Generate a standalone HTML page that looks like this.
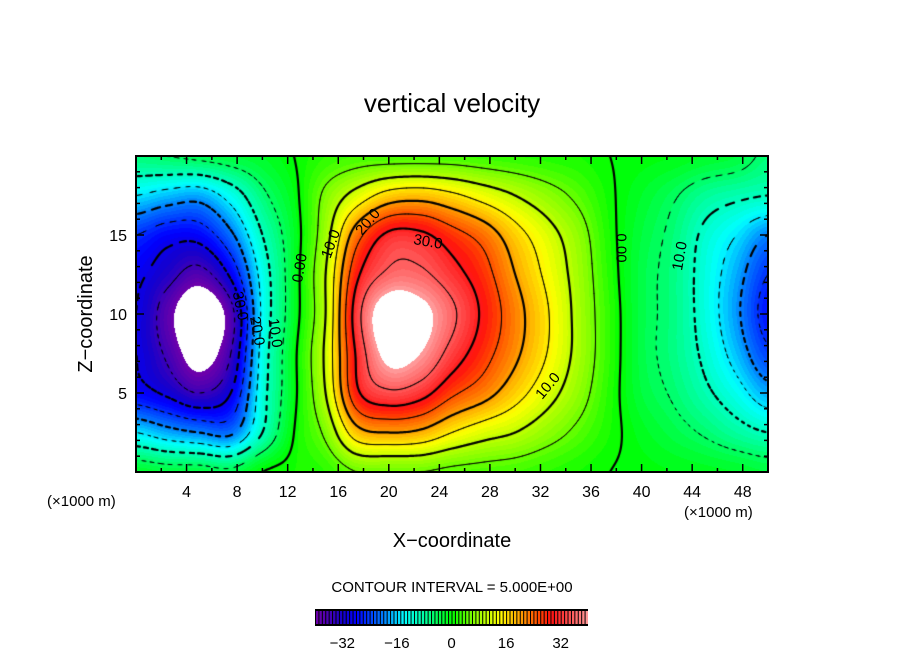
<!DOCTYPE html>
<html><head><meta charset="utf-8">
<style>
html,body{margin:0;padding:0;background:#fff;}
#wrap{position:relative;width:904px;height:654px;overflow:hidden;font-family:"Liberation Sans",sans-serif;}
#plot{position:absolute;left:136px;top:156px;}
svg{position:absolute;left:0;top:0;}
</style></head>
<body>
<div id="wrap">
<canvas id="plot" width="632" height="316"></canvas>
<svg id="ov" width="904" height="654"></svg>
</div>
<script>
// ---- data ----
const xGrid = [0,2.5,5,7.5,10,12.5,15,17.5,20,22.5,25,27.5,30,32.5,35,37.5,40,42.5,45,47.5,50];
const zGrid = [0,2.5,5,7.5,10,12.5,15,17.5,20];
const row0  = [-2,-3,-3,-4,0,1,2,5,5,5,4,3.5,3,2,1,0,-0.5,-1,-1.5,-2,-3];
const row1  = [-15,-18,-20,-21,-10,0,6,18,20,19,15,12,10,7,4,1,-1.5,-3.5,-5.5,-8,-10];
const row2  = [-28,-31,-35,-30,-12,-1,10,29,34,32,26,22,17,12,7,1.5,-3,-5.5,-9,-13,-18];
const row3  = [-30,-36,-43,-35,-13,-1,11,31,42,40,33,27,21,15,8.5,2,-3.5,-6.5,-11,-17,-24];
const row4  = [-30,-38,-46,-37,-14,-2,10,33,44,42,36,29,22,15.5,8.5,2,-3.5,-6.5,-12,-19,-27];
const row5  = [-29,-33,-37,-29,-13,-2,10,29,36,36,32,27,20,14,8,1.5,-3.5,-6.5,-12,-18,-25];
const row6  = [-25,-28,-28,-21,-10,-2,8,23,31,31,27,23,17,12,7,1,-3,-6,-11,-15,-20];
const row7  = [-15,-17,-18,-13,-6,-1,6,12,17,18,16,13,10,7,4,0.5,-2,-4.5,-7.5,-9,-10];
const row8  = [-6,-5,-4,-3,-2,0,2,3,3,3,3,2.5,2,1.5,1,0,-0.5,-1,-2,-3,-6];
const rows = [row0,row1,row2,row3,row4,row5,row6,row7,row8];
const xTicks = [4,8,12,16,20,24,28,32,36,40,44,48];
const zTicks = [5,10,15];
const cbTicks = [-32,-16,0,16,32];
const levels = [-35,-30,-25,-20,-15,-10,-5,0,5,10,15,20,25,30,35];

// ---- geometry ----
const PL=136, PT=156, PW=632, PH=316;
const X0=0,X1=50,Z0=0,Z1=20;
function sx(x){return PL+(x-X0)/(X1-X0)*PW;}
function sz(z){return PT+PH-(z-Z0)/(Z1-Z0)*PH;}

function cr(p0,p1,p2,p3,t){return 0.5*((2*p1)+(-p0+p2)*t+(2*p0-5*p1+4*p2-p3)*t*t+(-p0+3*p1-3*p2+p3)*t*t*t);}
function gv(i,j){i=Math.max(0,Math.min(xGrid.length-1,i));j=Math.max(0,Math.min(zGrid.length-1,j));return rows[j][i];}
function field(x,z){
  const dx=xGrid[1]-xGrid[0], dz=zGrid[1]-zGrid[0];
  let fx=(x-xGrid[0])/dx, fz=(z-zGrid[0])/dz;
  let i=Math.min(xGrid.length-2,Math.max(0,Math.floor(fx))), j=Math.min(zGrid.length-2,Math.max(0,Math.floor(fz)));
  const tx=fx-i, tz=fz-j;
  const c=[];
  for(let k=-1;k<=2;k++) c.push(cr(gv(i-1,j+k),gv(i,j+k),gv(i+1,j+k),gv(i+2,j+k),tx));
  return cr(c[0],c[1],c[2],c[3],tz);
}
const stops=[[-40,[112,0,170]],[-36,[70,0,180]],[-32,[20,0,205]],[-28,[0,0,255]],[-24,[0,64,255]],[-20,[0,128,255]],[-14,[0,255,255]],[-8,[0,255,160]],[0,[0,255,0]],[6,[128,255,0]],[14,[255,255,0]],[20,[255,160,0]],[26,[255,64,0]],[29,[255,16,16]],[33,[255,64,64]],[38,[255,128,128]],[40,[255,160,160]]];
function cmap(v){
  if(v<=stops[0][0])return stops[0][1];
  for(let k=1;k<stops.length;k++){if(v<=stops[k][0]){const a=stops[k-1],b=stops[k];const t=(v-a[0])/(b[0]-a[0]);return a[1].map((c,n)=>Math.round(c+(b[1][n]-c)*t));}}
  return stops[stops.length-1][1];
}

// ---- field ----
const cv=document.getElementById('plot');const ctx=cv.getContext('2d');
const img=ctx.createImageData(PW,PH);
for(let py=0;py<PH;py++){const z=Z1-(py+0.5)/PH*(Z1-Z0);
  for(let px=0;px<PW;px++){const x=X0+(px+0.5)/PW*(X1-X0);const v=field(x,z);const o=(py*PW+px)*4;
    let col; if(v>40||v<-40) col=[255,255,255]; else col=cmap(Math.floor(v)+0.5);
    img.data[o]=col[0];img.data[o+1]=col[1];img.data[o+2]=col[2];img.data[o+3]=255;}}
ctx.putImageData(img,0,0);

// ---- contours (marching squares) ----
const S=2, NX=PW/S, NY=PH/S;
const F=[];
for(let j=0;j<=NY;j++){F[j]=[];for(let i=0;i<=NX;i++){F[j][i]=field(X0+i*S/PW*(X1-X0),Z1-j*S/PH*(Z1-Z0));}}
ctx.strokeStyle='#000';ctx.lineCap='round';
levels.forEach(L=>{
  ctx.lineWidth=(L%10===0)?2.2:1;
  ctx.beginPath();
  for(let j=0;j<NY;j++)for(let i=0;i<NX;i++){
    const a=F[j][i],b=F[j][i+1],c=F[j+1][i+1],d=F[j+1][i];
    const pts=[];
    const e=(v1,v2,x1,y1,x2,y2)=>{if((v1<L)!==(v2<L)){const t=(L-v1)/(v2-v1);pts.push([x1+(x2-x1)*t,y1+(y2-y1)*t]);}};
    const x=i*S,y=j*S;
    e(a,b,x,y,x+S,y);e(b,c,x+S,y,x+S,y+S);e(c,d,x+S,y+S,x,y+S);e(d,a,x,y+S,x,y);
    for(let k=0;k+1<pts.length;k+=2){
      const mx=(pts[k][0]+pts[k+1][0])/2,my=(pts[k][1]+pts[k+1][1])/2;
      if(L<0 && Math.floor((mx+my)/5)%2===1) continue;
      ctx.moveTo(pts[k][0],pts[k][1]);ctx.lineTo(pts[k+1][0],pts[k+1][1]);
    }
  }
  ctx.stroke();
});

// ---- overlay ----
const ov=document.getElementById('ov');const NS='http://www.w3.org/2000/svg';
function mk(tag,attrs,parent){const el=document.createElementNS(NS,tag);for(const k in attrs)el.setAttribute(k,attrs[k]);(parent||ov).appendChild(el);return el;}
function txt(s,attrs){const t=mk('text',Object.assign({'font-family':'Liberation Sans, sans-serif',fill:'#000'},attrs));t.textContent=s;return t;}

const frame=mk('rect',{x:PL,y:PT,width:PW,height:PH,fill:'none',stroke:'#000','stroke-width':2});



const tg=mk('g',{stroke:'#000','stroke-width':1.5});


for(let x=2;x<50;x+=2){const len=(x%4===0)?8:4;
  mk('line',{x1:sx(x),x2:sx(x),y1:PT+PH,y2:PT+PH-len},tg);mk('line',{x1:sx(x),x2:sx(x),y1:PT,y2:PT+len},tg);}
for(let z=1;z<20;z++){const len=(z%5===0)?8:4;
  mk('line',{x1:PL,x2:PL+len,y1:sz(z),y2:sz(z)},tg);mk('line',{x1:PL+PW,x2:PL+PW-len,y1:sz(z),y2:sz(z)},tg);}

xTicks.forEach(v=>{const t=txt(String(v),{x:sx(v),y:497,'font-size':16,'text-anchor':'middle'});
  
  });
zTicks.forEach(v=>{const t=txt(String(v),{x:127,y:sz(v)+6,'font-size':16,'text-anchor':'end'});
  
  });

let t;
t=txt('vertical velocity',{x:452,y:112,'font-size':26,'text-anchor':'middle'});

t=txt('X\u2212coordinate',{x:452,y:547,'font-size':20,'text-anchor':'middle'});

t=txt('Z\u2212coordinate',{x:0,y:0,'font-size':20,'text-anchor':'middle',transform:'translate(92,314) rotate(-90)'});

t=txt('(\u00d71000 m)',{x:47,y:506,'font-size':15});

t=txt('(\u00d71000 m)',{x:684,y:517,'font-size':15});

t=txt('CONTOUR INTERVAL = 5.000E+00',{x:452,y:592,'font-size':15,'text-anchor':'middle'});


// contour labels
const clabels=[['0.00',300,268,-80],['10.0',331,244,-70],['20.0',368,222,-50],['30.0',428,242,10],['0.00',621,248,90],['10.0',680,256,-80],['10.0',548,386,-50],['30.0',240,306,78],['20.0',257,331,80],['10.0',275,333,82]];
clabels.forEach(c=>{const l=txt(c[0],{x:0,y:0,'font-size':15,'text-anchor':'middle','dominant-baseline':'central',transform:`translate(${c[1]},${c[2]}) rotate(${c[3]})`});
  
  });

// colorbar
const CB0=315, CB1=588, CBT=609, CBH=17;
function cbx(v){return CB0+(v+40)/80*(CB1-CB0);}
const cb=mk('g',{});


mk('rect',{x:CB0,y:CBT,width:CB1-CB0,height:CBH,fill:'#000'},cb);
for(let v=-40;v<40;v++){const c=cmap(v+0.5);
  mk('rect',{x:cbx(v)+1,y:CBT+2,width:(CB1-CB0)/80-1,height:CBH-4,fill:`rgb(${c[0]},${c[1]},${c[2]})`},cb);}
cbTicks.forEach(v=>{const l=txt(String(v).replace('-','\u2212'),{x:cbx(v),y:648,'font-size':15,'text-anchor':'middle'});
  
  });
</script>
</body></html>
